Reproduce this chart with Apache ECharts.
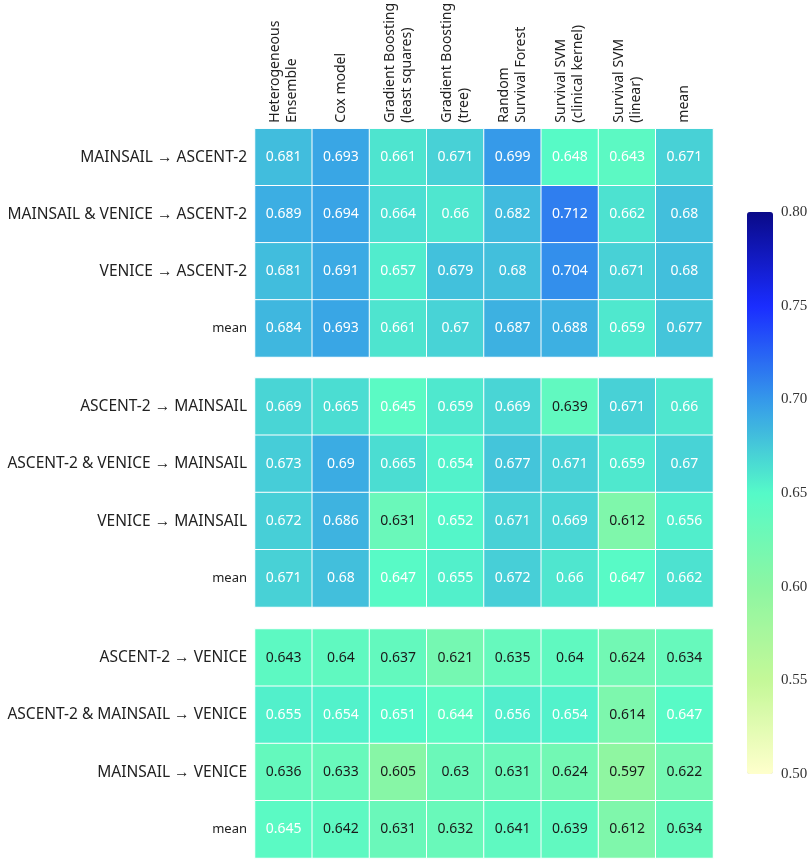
<!DOCTYPE html>
<html>
<head>
<meta charset="utf-8">
<script src="https://cdn.jsdelivr.net/npm/echarts@6/dist/echarts.min.js"></script>
<style>
  html, body { margin: 0; padding: 0; background: #fff; }
  #chart { width: 812px; height: 860px; }
</style>
</head>
<body>
<div id="chart"></div>
<script>
// column headers (models)
const models = [
  'Heterogeneous\nEnsemble', 'Cox model', 'Gradient Boosting\n(least squares)',
  'Gradient Boosting\n(tree)', 'Random\nSurvival Forest', 'Survival SVM\n(clinical kernel)',
  'Survival SVM\n(linear)', 'mean'
]

// panel 1: -> ASCENT-2
const rowsAscent = ['MAINSAIL → ASCENT-2', 'MAINSAIL & VENICE → ASCENT-2', 'VENICE → ASCENT-2', 'mean']
const valsAscent = [
  [0.681, 0.693, 0.661, 0.671, 0.699, 0.648, 0.6434, 0.671],
  [0.689, 0.694, 0.664, 0.66, 0.682, 0.712, 0.662, 0.68],
  [0.681, 0.691, 0.657, 0.679, 0.68, 0.704, 0.671, 0.68],
  [0.684, 0.693, 0.661, 0.67, 0.687, 0.688, 0.659, 0.677],
]

// panel 2: -> MAINSAIL
const rowsMainsail = ['ASCENT-2 → MAINSAIL', 'ASCENT-2 & VENICE → MAINSAIL', 'VENICE → MAINSAIL', 'mean']
const valsMainsail = [
  [0.669, 0.665, 0.645, 0.659, 0.669, 0.639, 0.671, 0.66],
  [0.673, 0.69, 0.665, 0.654, 0.677, 0.671, 0.659, 0.67],
  [0.672, 0.686, 0.631, 0.652, 0.671, 0.669, 0.612, 0.656],
  [0.671, 0.68, 0.647, 0.655, 0.672, 0.66, 0.647, 0.662],
]

// panel 3: -> VENICE
const rowsVenice = ['ASCENT-2 → VENICE', 'ASCENT-2 & MAINSAIL → VENICE', 'MAINSAIL → VENICE', 'mean']
const valsVenice = [
  [0.6426, 0.64, 0.637, 0.621, 0.635, 0.64, 0.624, 0.634],
  [0.655, 0.654, 0.651, 0.644, 0.656, 0.654, 0.614, 0.647],
  [0.636, 0.633, 0.605, 0.63, 0.631, 0.624, 0.597, 0.622],
  [0.645, 0.642, 0.631, 0.632, 0.641, 0.639, 0.612, 0.634],
]

const colorbarTicks = [0.5, 0.55, 0.6, 0.65, 0.7, 0.75, 0.8]
const cmap = ['#ffffcc', '#c4f898', '#8cf6a2', '#55fac8', '#3598ea', '#1a2cff', '#0a0a88']

const panels = [
  { rows: rowsAscent, vals: valsAscent, top: 128 },
  { rows: rowsMainsail, vals: valsMainsail, top: 378 },
  { rows: rowsVenice, vals: valsVenice, top: 629 },
]

const FONT = 'Noto Sans'

function toCells(vals) {
  const out = []
  vals.forEach((row, r) => row.forEach((v, c) => {
    out.push({
      value: [c, r, v],
      label: { color: v >= 0.643 ? '#ffffff' : '#1a1a1a' },
    })
  }))
  return out
}

const grid = panels.map(p => ({ left: 255, width: 458, top: p.top, height: 229 }))
grid.push({ left: 747, width: 26, top: 212, height: 562 })

const xAxis = panels.map((p, i) => ({
  type: 'category',
  gridIndex: i,
  data: models,
  position: 'top',
  axisLine: { show: false },
  axisTick: { show: false },
  splitLine: { show: false },
  axisLabel: {
    show: i === 0,
    interval: 0,
    rotate: -90,
    margin: 6,
    fontFamily: FONT,
    fontSize: 14,
    lineHeight: 17,
    color: '#222',
  },
}))
xAxis.push({ type: 'value', gridIndex: 3, show: false, min: 0, max: 1 })

const yAxis = panels.map((p, i) => ({
  type: 'category',
  gridIndex: i,
  data: p.rows,
  inverse: true,
  axisLine: { show: false },
  axisTick: { show: false },
  splitLine: { show: false },
  axisLabel: {
    interval: 0,
    margin: 8,
    fontFamily: FONT,
    fontSize: 15.5,
    color: '#222',
    formatter: v => v === 'mean' ? '{m|mean}' : v,
    rich: { m: { fontFamily: FONT, fontSize: 13, color: '#222' } },
  },
}))
yAxis.push({
  type: 'value',
  gridIndex: 3,
  position: 'right',
  min: colorbarTicks[0],
  max: colorbarTicks[colorbarTicks.length - 1],
  interval: 0.05,
  axisLine: { show: false },
  axisTick: { show: false },
  splitLine: { show: false },
  axisLabel: {
    margin: 8,
    fontFamily: 'serif',
    fontSize: 15,
    color: '#333',
    formatter: v => v.toFixed(2),
  },
})

const series = panels.map((p, i) => ({
  type: 'heatmap',
  xAxisIndex: i,
  yAxisIndex: i,
  data: toCells(p.vals),
  itemStyle: { borderColor: '#ffffff', borderWidth: 1 },
  label: {
    show: true,
    fontFamily: FONT,
    fontSize: 14,
    formatter: d => String(parseFloat(d.value[2].toFixed(3))),
  },
  emphasis: { disabled: true },
}))
series.push({ type: 'scatter', xAxisIndex: 3, yAxisIndex: 3, data: [], silent: true })

const chart = echarts.init(document.getElementById('chart'), null, { renderer: 'canvas' })
chart.setOption({
  animation: false,
  backgroundColor: '#ffffff',
  grid,
  xAxis,
  yAxis,
  visualMap: {
    type: 'continuous',
    seriesIndex: [0, 1, 2],
    min: 0.5,
    max: 0.8,
    calculable: false,
    hoverLink: false,
    left: 747,
    top: 212,
    itemWidth: 26,
    itemHeight: 562,
    padding: 0,
    text: null,
    inRange: { color: cmap },
  },
  series,
})
</script>
</body>
</html>
